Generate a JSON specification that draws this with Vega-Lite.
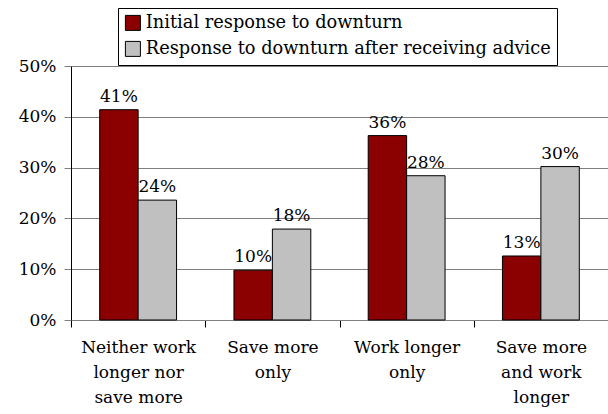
{
  "$schema": "https://vega.github.io/schema/vega-lite/v6.json",
  "autosize": {"type": "none"},
  "padding": {"left": 71, "top": 66, "right": 0, "bottom": 94},
  "width": 537,
  "height": 254,
  "background": "white",
  "data": {
    "values": [
      {"category": "Neither work|longer nor|save more", "series": "Initial response to downturn", "value": 0.414},
      {"category": "Neither work|longer nor|save more", "series": "Response to downturn after receiving advice", "value": 0.236},
      {"category": "Save more|only", "series": "Initial response to downturn", "value": 0.098},
      {"category": "Save more|only", "series": "Response to downturn after receiving advice", "value": 0.179},
      {"category": "Work longer|only", "series": "Initial response to downturn", "value": 0.363},
      {"category": "Work longer|only", "series": "Response to downturn after receiving advice", "value": 0.284},
      {"category": "Save more|and work|longer", "series": "Initial response to downturn", "value": 0.126},
      {"category": "Save more|and work|longer", "series": "Response to downturn after receiving advice", "value": 0.302}
    ]
  },
  "encoding": {
    "x": {
      "field": "category",
      "type": "nominal",
      "sort": null,
      "title": null,
      "scale": {"paddingInner": 0, "paddingOuter": 0},
      "axis": {
        "labelAngle": 0,
        "labelExpr": "split(datum.label, '|')",
        "labelFont": "DejaVu Serif",
        "labelFontSize": 17,
        "labelColor": "black",
        "labelLineHeight": 25,
        "labelPadding": 12,
        "labelBaseline": "top",
        "tickBand": "extent",
        "tickSize": 7,
        "tickColor": "black",
        "domainColor": "#808080",
        "grid": false
      }
    },
    "xOffset": {
      "field": "series",
      "type": "nominal",
      "sort": null,
      "scale": {"paddingInner": 0, "paddingOuter": 0.747}
    },
    "y": {
      "field": "value",
      "type": "quantitative",
      "title": null,
      "scale": {"domain": [0, 0.5], "nice": false},
      "axis": {
        "format": ".0%",
        "values": [0, 0.1, 0.2, 0.3, 0.4, 0.5],
        "labelOverlap": false,
        "labelFont": "DejaVu Serif",
        "labelFontSize": 17,
        "labelColor": "black",
        "labelPadding": 8,
        "tickSize": 7,
        "tickColor": "#808080",
        "gridColor": "#808080",
        "gridOpacity": 1,
        "domainColor": "black",
        "grid": true
      }
    }
  },
  "layer": [
    {
      "mark": {"type": "bar", "stroke": "black", "strokeWidth": 1},
      "encoding": {
        "color": {
          "field": "series",
          "type": "nominal",
          "sort": null,
          "scale": {
            "domain": ["Initial response to downturn", "Response to downturn after receiving advice"],
            "range": ["#8B0000", "#C0C0C0"]
          },
          "legend": {
            "title": null,
            "orient": "none",
            "legendX": 47,
            "legendY": -58,
            "strokeColor": "black",
            "fillColor": "white",
            "padding": 6,
            "symbolType": "square",
            "symbolSize": 225,
            "symbolStrokeColor": "black",
            "symbolStrokeWidth": 1,
            "symbolOpacity": 1,
            "labelFont": "DejaVu Serif",
            "labelFontSize": 17.8,
            "labelColor": "black",
            "labelOffset": 4,
            "rowPadding": 6,
            "labelLimit": 500
          }
        }
      }
    },
    {
      "mark": {"type": "text", "baseline": "alphabetic", "dy": -8, "font": "DejaVu Serif", "fontSize": 17, "color": "black"},
      "encoding": {
        "text": {"field": "value", "type": "quantitative", "format": ".0%"}
      }
    }
  ],
  "config": {
    "view": {"stroke": null},
    "axis": {"domainWidth": 1, "tickWidth": 1, "gridWidth": 1}
  }
}
